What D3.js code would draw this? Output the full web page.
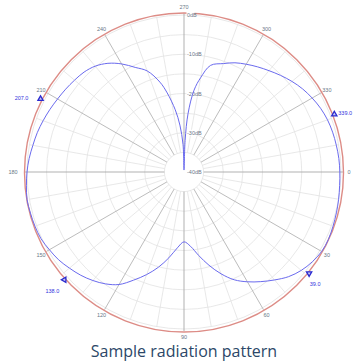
<!DOCTYPE html>
<html>
<head>
<meta charset="utf-8">
<style>
  body { margin: 0; background: #fff; }
  svg { display: block; }
  .tick { font-family: "Liberation Sans", Arial, sans-serif; font-size: 5.5px; fill: #6a7888; }
  .mark { font-family: "Liberation Sans", Arial, sans-serif; font-size: 5.5px; fill: #3333dd; }
  .title { font-family: "Open Sans", sans-serif; font-size: 16px; fill: #2c4768; }
</style>
</head>
<body>
<svg id="plot"></svg>
<script src="https://d3js.org/d3.v7.min.js"></script>
<script>

// measured pattern, angle in degrees (0 = right, clockwise), level in dB
var angles = [0,5,10,15,20,25,30,35,40,45,50,55,60,65,70,75,80,85,90,95,100,105,110,115,120,125,130,135,140,145,150,155,160,165,170,175,
              180,185,190,195,200,205,210,215,220,225,230,235,240,245,250,255,258,262,265,268,270,272,274,277,280,284,290,295,300,305,310,315,320,325,330,335,340,345,350,355];
var levels = [-0.3,-0.2,0,0.2,0.4,0.6,0.5,-0.1,-1.0,-2.3,-4.1,-5.9,-7.7,-9.7,-12.4,-15.4,-18.4,-21.0,-22.2,-20.6,-17.8,-14.9,-12.2,-9.6,-6.9,-5.2,-3.9,-2.8,-1.9,-1.0,-0.4,0.2,0.4,0.5,0.6,0.3,
              0,-0.4,-0.9,-1.3,-1.8,-2.3,-2.8,-3.2,-3.6,-4.0,-4.8,-6.2,-8.2,-10.6,-12.6,-16.3,-19.4,-24.0,-28.0,-33.0,-39.5,-32.0,-25.0,-19.0,-15.6,-12.0,-10.6,-9.3,-8.3,-7.3,-6.3,-5.2,-4.1,-3.1,-2.3,-1.6,-1.1,-0.8,-0.6,-0.4];

var ringLevels = [-35,-30,-25,-20,-15,-10,-5,0];
var dbLabels = [0,-10,-20,-30,-40];
var spokeAngles = d3.range(0,360,10);
var labelAngles = [0,30,60,90,120,150,180,210,240,270,300,330];

var markerAngles = [207,339,138,39];
var markerText = ["207.0","339.0","138.0","39.0"];

var titleText = "Sample radiation pattern";

var screen = {width:358, height:362};
var cx = 184, cy = 172;

var svg = d3.select("#plot")
    .attr("width",screen.width)
    .attr("height",screen.height);

var rScale = d3.scaleLinear()
    .domain([-40,0])
    .range([0,157]);

var toRad = function(deg) { return deg*Math.PI/180; };
var px = function(deg,r) { return cx + r*Math.cos(toRad(deg)); };
var py = function(deg,r) { return cy + r*Math.sin(toRad(deg)); };

var g = svg.append("g");

// rings every 5 dB
g.selectAll(".ring")
    .data(ringLevels)
    .enter()
    .append("circle")
    .attr("cx",cx)
    .attr("cy",cy)
    .attr("r",function(d){ return rScale(d); })
    .attr("fill","none")
    .attr("stroke","#e2e2e2")
    .attr("stroke-width",0.8);

// spokes, darker every 30 degrees
var inner = rScale(-35);
g.selectAll(".spoke")
    .data(spokeAngles)
    .enter()
    .append("line")
    .attr("x1",function(d){ return px(d,inner); })
    .attr("y1",function(d){ return py(d,inner); })
    .attr("x2",function(d){ return px(d,rScale(0)+ (d%30==0 ? 2 : 0)); })
    .attr("y2",function(d){ return py(d,rScale(0)+ (d%30==0 ? 2 : 0)); })
    .attr("stroke",function(d){ return d%90==0 ? "#a8a8a8" : (d%30==0 ? "#b4b4b4" : "#e2e2e2"); })
    .attr("stroke-width",function(d){ return d%30==0 ? 0.9 : 0.8; });

// reference circle
g.append("circle")
    .attr("cx",cx)
    .attr("cy",cy+0.5)
    .attr("r",159.5)
    .attr("fill","none")
    .attr("stroke","#dd8c86")
    .attr("stroke-width",1.4);

// angle labels
g.selectAll(".tick")
    .data(labelAngles)
    .enter()
    .append("text")
    .classed("tick",true)
    .attr("x",function(d){ return px(d, d==180 ? 171 : 165); })
    .attr("y",function(d){ return py(d,165); })
    .attr("text-anchor","middle")
    .attr("dominant-baseline","central")
    .text(function(d){ return d; });

// dB labels along the 270 spoke
var dbg = g.selectAll(".db")
    .data(dbLabels)
    .enter()
    .append("g")
    .attr("transform",function(d){ return "translate("+(cx+2.5)+","+(cy-rScale(d))+")"; });

dbg.append("rect")
    .attr("x",0)
    .attr("y",-3)
    .attr("width",function(d){ return d==0 ? 8 : 11; })
    .attr("height",6)
    .attr("fill","#fff");

dbg.append("text")
    .classed("tick",true)
    .attr("x",0.5)
    .attr("y",0)
    .attr("dominant-baseline","central")
    .text(function(d){ return d+"dB"; });

// pattern trace
var pts = angles.map(function(a,i){ return [toRad(a+90), rScale(Math.max(levels[i],-40))]; });

var line = d3.lineRadial()
    .angle(function(d){ return d[0]; })
    .radius(function(d){ return d[1]; })
    .curve(d3.curveCatmullRomClosed.alpha(0.5));

g.append("path")
    .attr("transform","translate("+cx+","+cy+")")
    .attr("d",line(pts))
    .attr("fill","none")
    .attr("stroke","#6a6aee")
    .attr("stroke-width",1);

// markers
var turn = [0,0,-90,180];
var tri = d3.symbol().type(d3.symbolTriangle).size(12);
markerAngles.forEach(function(a,i)
{
    var mx = px(a,161), my = py(a,161);
    g.append("path")
        .attr("d",tri())
        .attr("transform","translate("+mx+","+my+") rotate("+turn[i]+")")
        .attr("fill","#c8c8f4")
        .attr("stroke","#2a2ad0")
        .attr("stroke-width",1.3);
});

var labelPos = [[-19,-1,"middle"],[4,-1,"start"],[-12,11,"middle"],[6,11,"middle"]];
markerAngles.forEach(function(a,i)
{
    g.append("text")
        .classed("mark",true)
        .attr("x",px(a,161)+labelPos[i][0])
        .attr("y",py(a,161)+labelPos[i][1])
        .attr("text-anchor",labelPos[i][2])
        .attr("dominant-baseline","central")
        .text(markerText[i]);
});

// title
svg.append("text")
    .classed("title",true)
    .attr("x",184)
    .attr("y",357)
    .attr("text-anchor","middle")
    .text(titleText);

</script>
</body>
</html>
